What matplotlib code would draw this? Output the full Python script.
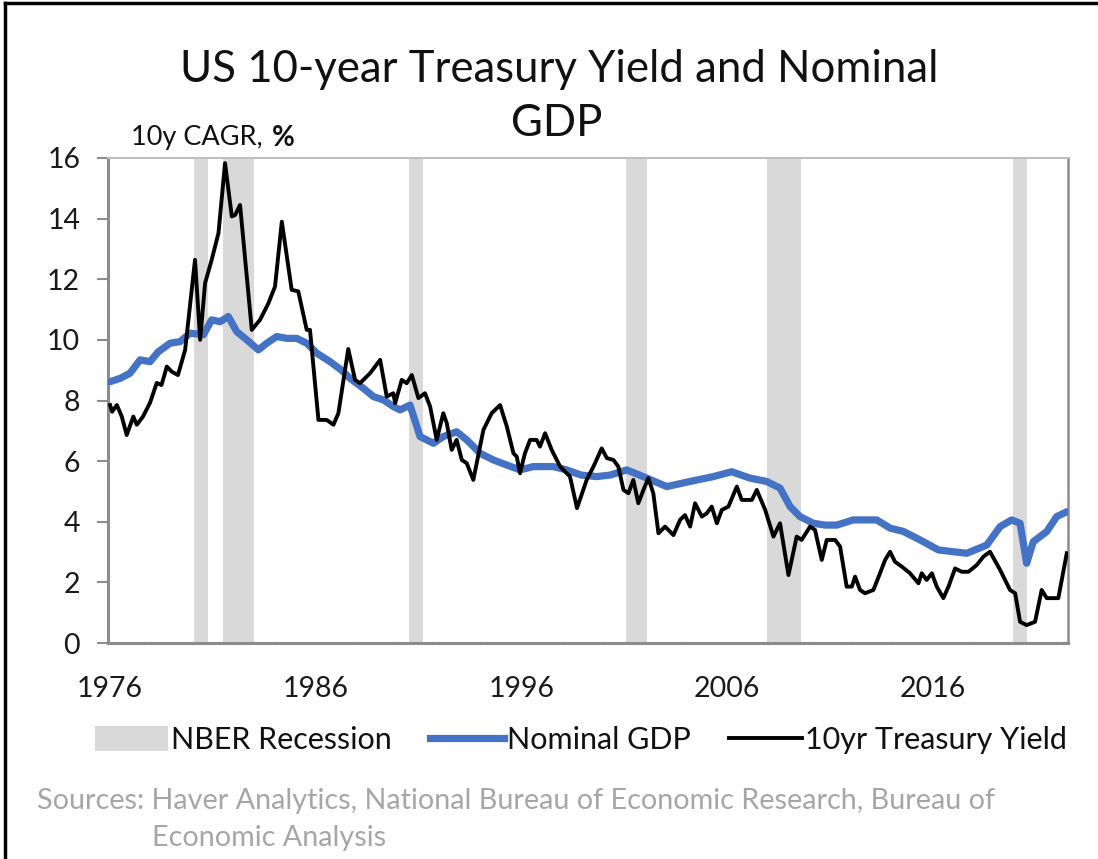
import matplotlib
matplotlib.use("Agg")
import matplotlib.pyplot as plt
from matplotlib.lines import Line2D
from matplotlib.patches import Patch
import numpy as np

plt.rcParams['font.family'] = ['Lato', 'DejaVu Sans']

# ---- data ----
recession_start = [1980.08, 1981.50, 1990.55, 2001.07, 2007.92, 2019.88]
recession_end = [1980.76, 1983.00, 1991.20, 2002.09, 2009.57, 2020.59]

gdp_years = [1976.0, 1976.49, 1976.97, 1977.46, 1977.94, 1978.35, 1978.92, 1979.4, 1979.89,
             1980.54, 1980.94, 1981.35, 1981.75, 1982.16, 1982.65, 1983.21, 1983.62, 1984.1,
             1984.59, 1985.08, 1985.56, 1986.05, 1986.7, 1987.25, 1987.67, 1988.32, 1988.8,
             1989.29, 1989.77, 1990.1, 1990.58, 1991.07, 1991.72, 1992.2, 1992.85, 1993.34,
             1993.99, 1994.63, 1995.29, 1995.93, 1996.58, 1997.55, 1998.2, 1998.9, 1999.66,
             2000.31, 2001.12, 2002.09, 2003.06, 2004.2, 2005.33, 2006.22, 2007.11, 2007.92,
             2008.57, 2009.06, 2009.54, 2010.19, 2010.76, 2011.33, 2012.13, 2013.27, 2013.92,
             2014.57, 2015.38, 2016.27, 2017.0, 2017.65, 2018.62, 2019.27, 2019.83, 2020.24,
             2020.56, 2020.88, 2021.54, 2022.02, 2022.51]
gdp_values = [8.62, 8.73, 8.9, 9.34, 9.28, 9.61, 9.89, 9.94, 10.22,
              10.17, 10.66, 10.6, 10.77, 10.27, 10.0, 9.67, 9.89, 10.11,
              10.05, 10.05, 9.89, 9.56, 9.28, 9.0, 8.73, 8.4, 8.13,
              8.02, 7.8, 7.69, 7.85, 6.81, 6.59, 6.81, 6.97, 6.7,
              6.26, 6.04, 5.87, 5.71, 5.82, 5.82, 5.71, 5.54, 5.49,
              5.54, 5.71, 5.44, 5.16, 5.33, 5.49, 5.65, 5.44, 5.33,
              5.11, 4.5, 4.17, 3.95, 3.89, 3.89, 4.06, 4.06, 3.79,
              3.68, 3.4, 3.07, 3.01, 2.96, 3.23, 3.84, 4.06, 3.95,
              2.63, 3.34, 3.68, 4.17, 4.33]

yield_years = [1976.0, 1976.1, 1976.33, 1976.57, 1976.81, 1977.13, 1977.3, 1977.6, 1977.94,
               1978.27, 1978.5, 1978.76, 1979.0, 1979.3, 1979.65, 1980.13, 1980.38, 1980.62,
               1980.94, 1981.27, 1981.59, 1981.92, 1982.08, 1982.32, 1982.89, 1983.29, 1983.7,
               1984.02, 1984.35, 1984.83, 1985.15, 1985.56, 1985.72, 1986.13, 1986.53, 1986.86,
               1987.1, 1987.58, 1987.91, 1988.15, 1988.64, 1989.13, 1989.45, 1989.77, 1989.86,
               1990.18, 1990.42, 1990.67, 1990.99, 1991.31, 1991.56, 1991.88, 1992.2, 1992.37,
               1992.61, 1992.85, 1993.1, 1993.34, 1993.66, 1994.15, 1994.55, 1994.96, 1995.29,
               1995.61, 1995.77, 1995.93, 1996.17, 1996.42, 1996.74, 1996.9, 1997.15, 1997.47,
               1997.88, 1998.36, 1998.7, 1999.17, 1999.5, 1999.9, 2000.15, 2000.47, 2000.71,
               2000.96, 2001.2, 2001.44, 2001.68, 2001.93, 2002.17, 2002.41, 2002.66, 2002.98,
               2003.39, 2003.71, 2003.95, 2004.2, 2004.44, 2004.77, 2005.01, 2005.25, 2005.5,
               2005.74, 2006.06, 2006.47, 2006.71, 2007.2, 2007.44, 2007.85, 2008.25, 2008.57,
               2008.98, 2009.38, 2009.62, 2010.03, 2010.27, 2010.6, 2010.84, 2011.25, 2011.49,
               2011.81, 2012.06, 2012.22, 2012.46, 2012.7, 2013.11, 2013.43, 2013.68, 2013.92,
               2014.16, 2014.49, 2014.89, 2015.3, 2015.46, 2015.7, 2015.95, 2016.19, 2016.51,
               2016.76, 2017.08, 2017.4, 2017.73, 2018.13, 2018.46, 2018.78, 2019.27, 2019.75,
               2020.0, 2020.24, 2020.56, 2020.97, 2021.29, 2021.54, 2022.1, 2022.51]
yield_values = [7.85, 7.63, 7.85, 7.47, 6.86, 7.47, 7.2, 7.47, 7.92,
                8.58, 8.51, 9.12, 8.95, 8.84, 9.67, 12.64, 10.0, 11.87,
                12.64, 13.52, 15.83, 14.07, 14.12, 14.45, 10.33, 10.66, 11.21,
                11.76, 13.9, 11.65, 11.6, 10.33, 10.33, 7.36, 7.36, 7.2,
                7.58, 9.7, 8.68, 8.57, 8.9, 9.34, 8.13, 8.24, 7.91,
                8.68, 8.57, 8.84, 8.08, 8.24, 7.8, 6.7, 7.58, 7.25,
                6.37, 6.7, 6.04, 5.93, 5.38, 7.03, 7.58, 7.85, 7.14,
                6.26, 6.15, 5.6, 6.26, 6.7, 6.7, 6.48, 6.92, 6.37,
                5.82, 5.49, 4.45, 5.38, 5.82, 6.42, 6.1, 6.04, 5.82,
                5.05, 4.94, 5.38, 4.61, 5.05, 5.44, 4.94, 3.62, 3.84,
                3.56, 4.06, 4.22, 3.84, 4.61, 4.17, 4.28, 4.5, 3.95,
                4.39, 4.5, 5.16, 4.72, 4.72, 5.05, 4.39, 3.51, 3.95,
                2.24, 3.51, 3.4, 3.84, 3.73, 2.74, 3.4, 3.4, 3.18,
                1.86, 1.86, 2.19, 1.75, 1.64, 1.75, 2.3, 2.74, 3.01,
                2.68, 2.52, 2.3, 1.97, 2.3, 2.08, 2.3, 1.86, 1.48,
                1.86, 2.46, 2.35, 2.35, 2.57, 2.85, 3.01, 2.41, 1.75,
                1.64, 0.7, 0.59, 0.7, 1.75, 1.48, 1.48, 2.96]

year_ticks = [1976, 1986, 1996, 2006, 2016]
y_ticks = [0, 2, 4, 6, 8, 10, 12, 14, 16]

title_line1 = "US 10-year Treasury Yield and Nominal"
title_line2 = "GDP"
unit_label = "10y CAGR,"
unit_pct = "%"
legend_labels = ["NBER Recession", "Nominal GDP", "10yr Treasury Yield"]
source_line1 = "Sources: Haver Analytics, National Bureau of Economic Research, Bureau of"
source_line2 = "Economic Analysis"

# ---- style ----
BLUE = "#4472C4"
REC = "#D9D9D9"
AXIS = "#8C8C8C"

W, H = 1098, 859
fig = plt.figure(figsize=(W / 100, H / 100), dpi=100)
ax = fig.add_axes([108 / W, 1 - 643 / H, (1068 - 108) / W, (643 - 158) / H])

for s, e in zip(recession_start, recession_end):
    ax.axvspan(s, e, color=REC, lw=0, zorder=1)

ax.plot(gdp_years, gdp_values, color=BLUE, lw=5.2, solid_capstyle='round',
        solid_joinstyle='round', zorder=3)
ax.plot(yield_years, yield_values, color="black", lw=2.8, solid_joinstyle='round', zorder=4)

ax.set_xlim(1975.9, 2022.57)
ax.set_ylim(0, 16)
ax.set_xticks(year_ticks)
ax.set_xticks(np.arange(1976, 2023, 2), minor=True)
ax.set_yticks(y_ticks)
ax.tick_params(axis='x', which='major', length=0, pad=24, labelsize=20.5, labelcolor="#1a1a1a")
ax.tick_params(axis='x', which='minor', length=3, color="#D0D0D0", direction='inout')
ax.tick_params(axis='y', which='major', length=8, width=1.5, color=AXIS, pad=12,
               labelsize=20.5, labelcolor="#1a1a1a")

for side in ['left', 'bottom']:
    ax.spines[side].set_color(AXIS)
    ax.spines[side].set_linewidth(2.2)
ax.spines['right'].set_color(AXIS)
ax.spines['right'].set_linewidth(1.8)
ax.spines['top'].set_color("#BFBFBF")
ax.spines['top'].set_linewidth(1.5)

# title (two centred lines)
fig.text(559 / W, 1 - 70 / H, title_line1, ha='center', va='center', fontsize=31.5,
         color="#111111")
fig.text(557 / W, 1 - 124 / H, title_line2, ha='center', va='center', fontsize=31.5,
         color="#111111")

# unit label with bold %
t1 = fig.text(131 / W, 1 - 138 / H, unit_label, ha='left', va='center', fontsize=19.5,
              color="#111111")
fig.canvas.draw()
bb = t1.get_window_extent()
fig.text((bb.x1 + 9) / W, 1 - 138 / H, unit_pct, ha='left', va='center', fontsize=20,
         fontweight='bold', color="#111111")

# legend
handles = [Patch(facecolor=REC, edgecolor='none'),
           Line2D([], [], color=BLUE, lw=5.2),
           Line2D([], [], color="black", lw=2.8)]
leg = fig.legend(handles, legend_labels, loc='center', bbox_to_anchor=(581 / W, 1 - 740 / H),
                 ncol=3, frameon=False, fontsize=22, handlelength=2.4, handletextpad=0.1,
                 columnspacing=1.25, handleheight=0.9)
for t in leg.get_texts():
    t.set_color("#111111")

# sources
fig.text(37 / W, 1 - 801 / H, source_line1, ha='left', va='center', fontsize=20.7, color="#A6A6A6")
fig.text(152 / W, 1 - 838 / H, source_line2, ha='left', va='center', fontsize=20.7, color="#A6A6A6")

# outer frame (left and top edges visible)
fig.add_artist(Line2D([5 / W, 5 / W], [0, 1 - 3 / H], transform=fig.transFigure,
                      color="black", lw=2.5))
fig.add_artist(Line2D([5 / W, 1], [1 - 3 / H, 1 - 3 / H], transform=fig.transFigure,
                      color="black", lw=2.5))

fig.savefig("out.png", dpi=100)
